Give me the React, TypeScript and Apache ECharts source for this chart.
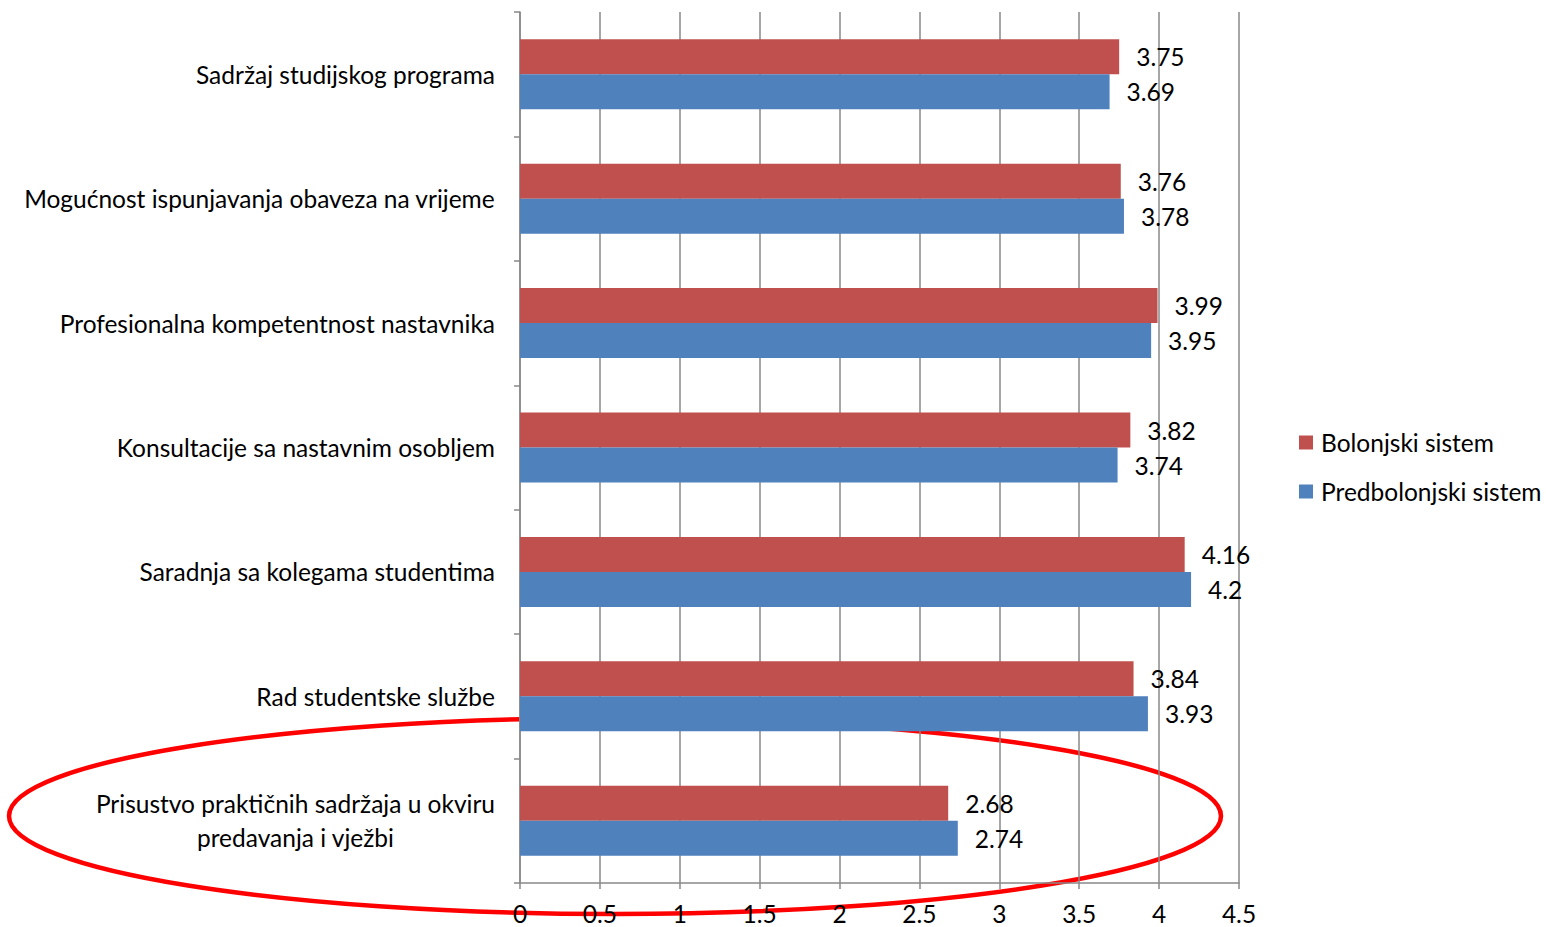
import React, { useEffect, useRef } from "react";
import * as echarts from "echarts";

const categories = [
  "Sadržaj studijskog programa",
  "Mogućnost ispunjavanja obaveza na vrijeme",
  "Profesionalna kompetentnost nastavnika",
  "Konsultacije sa nastavnim osobljem",
  "Saradnja sa kolegama studentima",
  "Rad studentske službe",
  "Prisustvo praktičnih sadržaja u okviru\npredavanja i vježbi",
];
const bolonjski = [3.75, 3.76, 3.99, 3.82, 4.16, 3.84, 2.68];
const predbolonjski = [3.69, 3.78, 3.95, 3.74, 4.2, 3.93, 2.74];
const seriesNames = ["Bolonjski sistem", "Predbolonjski sistem"];

const FONT = "Lato";
const FS = 24.5;

export default function App() {
  const ref = useRef<HTMLDivElement>(null);
  useEffect(() => {
    if (!ref.current) return;
    const chart = echarts.init(ref.current, null, { renderer: "svg" });
    const gray = "#898989";
    const labelStyle = {
      show: true,
      position: "right",
      distance: 17,
      color: "#000",
      fontFamily: FONT,
      fontSize: FS,
    };
    chart.setOption({
      animation: false,
      backgroundColor: "#fff",
      textStyle: { fontFamily: FONT },
      grid: { left: 520, top: 12, width: 719, height: 871, containLabel: false },
      legend: {
        orient: "vertical",
        left: 1299,
        top: 430,
        padding: 0,
        itemWidth: 14,
        itemHeight: 14,
        itemGap: 24,
        icon: "rect",
        data: seriesNames,
        textStyle: {
          fontFamily: FONT,
          fontSize: FS,
          lineHeight: 24,
          color: "#000",
          padding: [0, 0, 0, 3],
        },
      },
      xAxis: {
        type: "value",
        min: 0,
        max: 4.5,
        interval: 0.5,
        z: 1,
        axisLine: { show: true, lineStyle: { color: gray, width: 1.5 } },
        axisTick: { show: true, length: 6, lineStyle: { color: gray, width: 1.5 } },
        splitLine: { show: true, lineStyle: { color: gray, width: 1.5 } },
        axisLabel: {
          margin: 19,
          color: "#000",
          fontFamily: FONT,
          fontSize: FS,
          lineHeight: 22,
        },
      },
      yAxis: {
        type: "category",
        inverse: true,
        data: categories,
        z: 1,
        axisLine: { show: true, lineStyle: { color: gray, width: 1.5 } },
        axisTick: { show: true, length: 6, lineStyle: { color: gray, width: 1.5 } },
        axisLabel: {
          margin: 25,
          color: "#000",
          fontFamily: FONT,
          fontSize: FS,
          lineHeight: 34,
          formatter: (v: string) =>
            v.split("\n").map((l) => "{c|" + l + "}").join("\n"),
          rich: {
            c: { align: "center", fontFamily: FONT, fontSize: FS, lineHeight: 34, color: "#000" },
          },
        },
      },
      graphic: [
        {
          type: "ellipse",
          z: 0,
          shape: { cx: 615, cy: 816, rx: 606, ry: 98 },
          style: { fill: "none", stroke: "#FF0000", lineWidth: 4.5 },
        },
      ],
      series: [
        {
          name: seriesNames[0],
          type: "bar",
          data: bolonjski,
          barWidth: 35,
          barGap: "0%",
          barCategoryGap: "44%",
          itemStyle: { color: "#C0504D" },
          label: labelStyle,
          z: 2,
        },
        {
          name: seriesNames[1],
          type: "bar",
          data: predbolonjski,
          barWidth: 35,
          barGap: "0%",
          barCategoryGap: "44%",
          itemStyle: { color: "#4F81BD" },
          label: labelStyle,
          z: 2,
        },
      ],
    });
    return () => chart.dispose();
  }, []);
  return (
    <div
      ref={ref}
      style={{ position: "fixed", left: 0, top: 0, width: 1546, height: 927, background: "#fff" }}
    />
  );
}
